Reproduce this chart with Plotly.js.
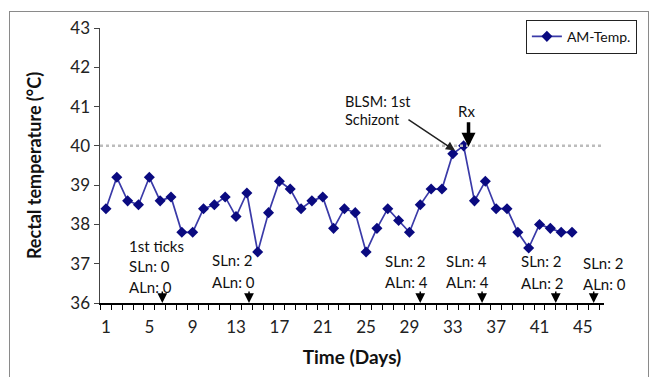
<!DOCTYPE html>
<html>
<head>
<meta charset="utf-8">
<script src="https://cdn.plot.ly/plotly-3.0.1.min.js"></script>
<style>
html,body{margin:0;padding:0;background:#fff;}
#chart{position:absolute;left:0;top:0;width:649px;height:377px;}
#frame{position:absolute;left:9px;top:11px;width:638px;height:380px;border:1px solid #8a8a8a;pointer-events:none;}
</style>
</head>
<body>
<div id="chart"></div>
<div id="frame"></div>
<script>
var days = [1,2,3,4,5,6,7,8,9,10,11,12,13,14,15,16,17,18,19,20,21,22,23,24,25,26,27,28,29,30,31,32,33,34,35,36,37,38,39,40,41,42,43,44];
var temps = [38.4,39.2,38.6,38.5,39.2,38.6,38.7,37.8,37.8,38.4,38.5,38.7,38.2,38.8,37.3,38.3,39.1,38.9,38.4,38.6,38.7,37.9,38.4,38.3,37.3,37.9,38.4,38.1,37.8,38.5,38.9,38.9,39.8,40.0,38.6,39.1,38.4,38.4,37.8,37.4,38.0,37.9,37.8,37.8];
var xTickLabels = [1,5,9,13,17,21,25,29,33,37,41,45];
var yTicks = [36,37,38,39,40,41,42,43];
var threshold = 40;
var seriesName = 'AM-Temp.';

// Sampling events (arrows on the axis) and their labels
var eventDays = [6.2,14.2,30.0,35.7,42.5,46.0];
var slnLabels = ['SLn: 0','SLn: 2','SLn: 2','SLn: 4','SLn: 2','SLn: 2'];
var alnLabels = ['ALn: 0','ALn: 0','ALn: 4','ALn: 4','ALn: 2','ALn: 0'];
var labelDays = [2.95,10.6,26.6,32.2,39.1,44.8];
var slnY = [36.93,37.1,37.06,37.06,37.06,37.02];
var alnY = [36.42,36.53,36.53,36.53,36.51,36.49];

var FONT = 'Lato, "Open Sans", sans-serif';

var trace = {
  x: days, y: temps, name: seriesName, type: 'scatter', mode: 'lines+markers',
  line: {color: '#3a3aa8', width: 1.7},
  marker: {symbol: 'diamond', size: 8.5, color: '#0a0a80', line: {width: 0}}
};

var ann = [];
ann.push({x: labelDays[0], y: 37.45, xref: 'x', yref: 'y', text: '1st ticks', showarrow: false, xanchor: 'left', yanchor: 'middle', font: {size: 15, color: '#111', family: FONT}});
for (var i = 0; i < eventDays.length; i++) {
  ann.push({x: labelDays[i], y: slnY[i], xref: 'x', yref: 'y', text: slnLabels[i], showarrow: false, xanchor: 'left', yanchor: 'middle', font: {size: 15, color: '#111', family: FONT}});
  ann.push({x: labelDays[i], y: alnY[i], xref: 'x', yref: 'y', text: alnLabels[i], showarrow: false, xanchor: 'left', yanchor: 'middle', font: {size: 15, color: '#111', family: FONT}});
  ann.push({x: eventDays[i], y: 36.0, xref: 'x', yref: 'y', text: '', showarrow: true, arrowhead: 2, arrowsize: 1.3, arrowwidth: 1.5, arrowcolor: '#000', ax: 0, ay: -13, standoff: 0});
}
ann.push({x: 22.85, y: 41.13, xref: 'x', yref: 'y', text: 'BLSM: 1st', showarrow: false, xanchor: 'left', yanchor: 'middle', font: {size: 14.5, color: '#111', family: FONT}});
ann.push({x: 22.85, y: 40.66, xref: 'x', yref: 'y', text: 'Schizont', showarrow: false, xanchor: 'left', yanchor: 'middle', font: {size: 14.5, color: '#111', family: FONT}});
ann.push({x: 33.2, y: 39.88, xref: 'x', yref: 'y', text: '', showarrow: true, arrowhead: 2, arrowsize: 1.2, arrowwidth: 1.5, arrowcolor: '#222', ax: -48, ay: -32, standoff: 0});
ann.push({x: 34.3, y: 40.9, xref: 'x', yref: 'y', text: 'Rx', showarrow: false, xanchor: 'center', yanchor: 'middle', font: {size: 15, color: '#111', family: FONT}});
ann.push({x: 34.45, y: 39.98, xref: 'x', yref: 'y', text: '', showarrow: true, arrowhead: 2, arrowsize: 0.8, arrowwidth: 3.5, arrowcolor: '#000', ax: 0, ay: -26, standoff: 0});

var layout = {
  width: 649, height: 377,
  margin: {l: 100, r: 37, t: 28, b: 74},
  paper_bgcolor: '#fff', plot_bgcolor: '#fff',
  font: {family: FONT, color: '#222'},
  showlegend: true,
  legend: {x: 0.845, y: 1.03, xanchor: 'left', yanchor: 'top', bgcolor: '#fff', bordercolor: '#222', borderwidth: 1, font: {size: 14, family: FONT, color: '#111'}, itemwidth: 30, tracegroupgap: 0},
  xaxis: {
    range: [0.45, 46.95], tickmode: 'array', tickvals: xTickLabels, ticktext: xTickLabels.map(String),
    ticks: '', showgrid: false, zeroline: false, showline: true, linecolor: '#000', linewidth: 2,
    tickfont: {size: 17, color: '#222', family: FONT}, ticklabelstandoff: 8,
    minor: {tick0: 0.5, dtick: 1, ticks: 'outside', ticklen: 5, tickcolor: '#000', tickwidth: 1, showgrid: false},
    title: {text: 'Time (Days)', font: {size: 19, color: '#111', family: FONT, weight: 'bold'}, standoff: 14}
  },
  yaxis: {
    range: [36, 43], tickmode: 'array', tickvals: yTicks, ticks: 'outside', ticklen: 5, tickcolor: '#444',
    showgrid: false, zeroline: false, showline: true, linecolor: '#444', linewidth: 1.5,
    tickfont: {size: 17, color: '#222', family: FONT},
    title: {text: 'Rectal temperature (°C)', font: {size: 18, color: '#111', family: FONT, weight: 'bold'}, standoff: 24}
  },
  shapes: [{type: 'line', xref: 'paper', yref: 'y', x0: 0, x1: 1, y0: threshold, y1: threshold, line: {color: '#bcbcbc', width: 2.5, dash: 'dot'}}],
  annotations: ann
};

Plotly.newPlot('chart', [trace], layout, {displayModeBar: false, staticPlot: true});
</script>
</body>
</html>
